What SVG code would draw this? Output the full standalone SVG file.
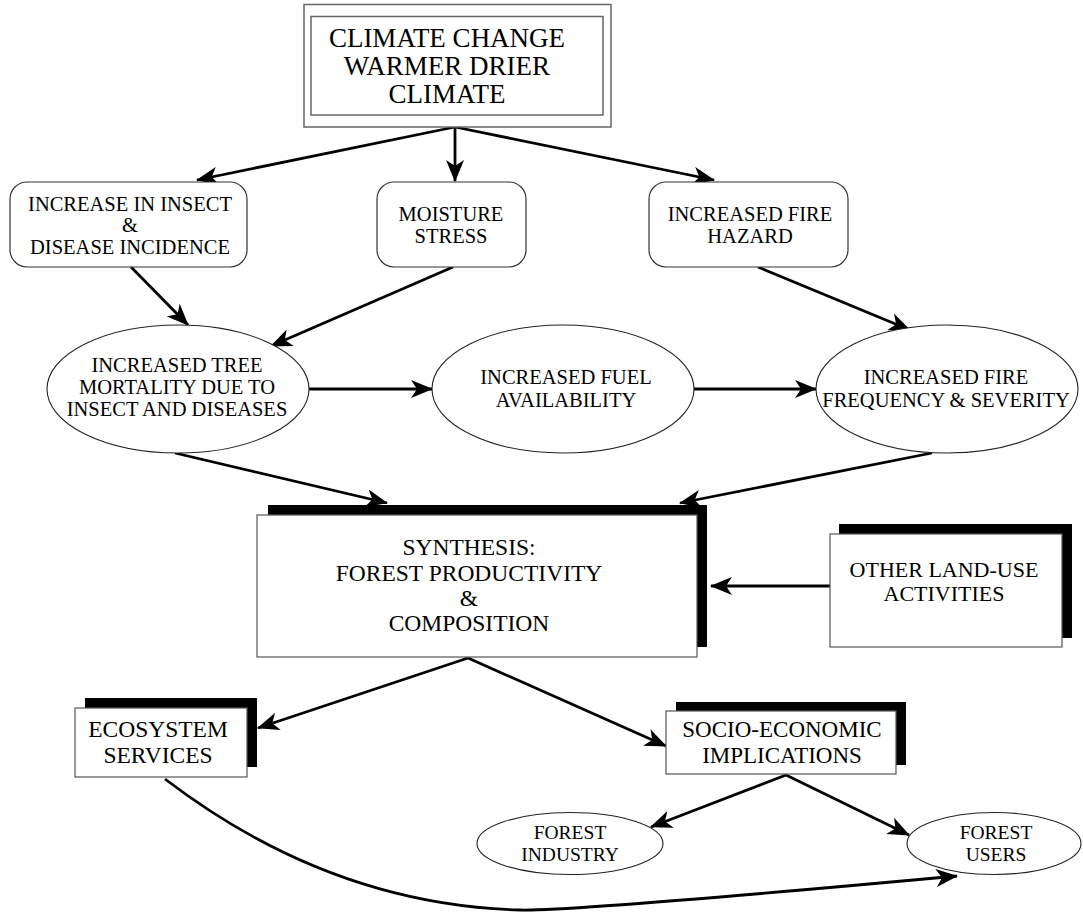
<svg xmlns="http://www.w3.org/2000/svg" width="1083" height="913" viewBox="0 0 1083 913">
<style>
text{font-family:"Liberation Serif","Times New Roman",serif;fill:#000;text-anchor:middle}
.box{fill:#fff;stroke:#555;stroke-width:1.2}
.rbox{fill:#fff;stroke:#333;stroke-width:1.2}
.ell{fill:#fff;stroke:#222;stroke-width:1.1}
.shadow{fill:#000}
.conn{fill:none;stroke:#000;stroke-width:2.8;marker-end:url(#ah)}
.t20{font-size:20.5px}
</style>
<defs>
<marker id="ah" viewBox="0 0 22 18" refX="21" refY="9" markerWidth="22" markerHeight="18" markerUnits="userSpaceOnUse" orient="auto">
<path d="M0,0 L22,9 L0,18 L6,9 z" fill="#000"/>
</marker>
</defs>
<rect width="1083" height="913" fill="#fff"/>

<g id="connectors">
<line class="conn" x1="455" y1="127" x2="197" y2="180"/>
<line class="conn" x1="455" y1="127" x2="455" y2="181"/>
<line class="conn" x1="455" y1="127" x2="714" y2="180"/>
<line class="conn" x1="131" y1="267" x2="188" y2="325"/>
<line class="conn" x1="453" y1="267" x2="271" y2="346"/>
<line class="conn" x1="758" y1="267" x2="910" y2="330"/>
<line class="conn" x1="309" y1="389" x2="432" y2="389"/>
<line class="conn" x1="694" y1="389" x2="816" y2="389"/>
<line class="conn" x1="175" y1="453" x2="387" y2="503"/>
<line class="conn" x1="932" y1="453" x2="680" y2="503"/>
<line class="conn" x1="830" y1="586" x2="711" y2="586"/>
<line class="conn" x1="468" y1="658" x2="258" y2="728"/>
<line class="conn" x1="468" y1="658" x2="666" y2="746"/>
<line class="conn" x1="786" y1="775" x2="651" y2="827"/>
<line class="conn" x1="786" y1="775" x2="909" y2="835"/>
<path class="conn" d="M165,779 Q330,905 520,910 Q573,911.4 957,876"/>
</g>

<g id="climate-change">
<rect x="304" y="4.5" width="307" height="122.5" fill="#fff" stroke="#666" stroke-width="1.5"/>
<rect x="311" y="16.5" width="292" height="98.5" fill="#fff" stroke="#666" stroke-width="1.5"/>
<text x="447" y="47" font-size="27">CLIMATE CHANGE</text>
<text x="447" y="75" font-size="27">WARMER DRIER</text>
<text x="447" y="103" font-size="27">CLIMATE</text>
</g>

<g id="insect-disease">
<rect class="rbox" x="10" y="182" width="237" height="85" rx="17"/>
<text class="t20" x="130" y="211">INCREASE IN INSECT</text>
<text class="t20" x="130" y="232">&amp;</text>
<text class="t20" x="130" y="254">DISEASE INCIDENCE</text>
</g>

<g id="moisture-stress">
<rect class="rbox" x="377" y="182" width="149" height="85" rx="17"/>
<text class="t20" x="451" y="221">MOISTURE</text>
<text class="t20" x="451" y="243">STRESS</text>
</g>

<g id="fire-hazard">
<rect class="rbox" x="649" y="182" width="199" height="85" rx="17"/>
<text class="t20" x="750" y="221">INCREASED FIRE</text>
<text class="t20" x="750" y="243">HAZARD</text>
</g>

<g id="tree-mortality">
<ellipse class="ell" cx="178" cy="389" rx="131" ry="64"/>
<text class="t20" x="177" y="372">INCREASED TREE</text>
<text class="t20" x="177" y="394">MORTALITY DUE TO</text>
<text class="t20" x="177" y="416">INSECT AND DISEASES</text>
</g>

<g id="fuel-availability">
<ellipse class="ell" cx="563" cy="389" rx="131" ry="64"/>
<text class="t20" x="566" y="384">INCREASED FUEL</text>
<text class="t20" x="566" y="407">AVAILABILITY</text>
</g>

<g id="fire-frequency">
<ellipse class="ell" cx="947" cy="389" rx="131" ry="64"/>
<text class="t20" x="946" y="384">INCREASED FIRE</text>
<text class="t20" x="946" y="407">FREQUENCY &amp; SEVERITY</text>
</g>

<g id="synthesis">
<rect class="shadow" x="268" y="505" width="439" height="142"/>
<rect class="box" x="257" y="515" width="440" height="142"/>
<text x="469" y="555" font-size="23.5">SYNTHESIS:</text>
<text x="469" y="581" font-size="23.5">FOREST PRODUCTIVITY</text>
<text x="469" y="606" font-size="23.5">&amp;</text>
<text x="469" y="631" font-size="23.5">COMPOSITION</text>
</g>

<g id="other-land-use">
<rect class="shadow" x="839" y="524" width="233" height="114"/>
<rect class="box" x="830" y="534" width="232" height="113"/>
<text x="944" y="577" font-size="22">OTHER LAND-USE</text>
<text x="944" y="601" font-size="22">ACTIVITIES</text>
</g>

<g id="ecosystem-services">
<rect class="shadow" x="85" y="698" width="172" height="69"/>
<rect class="box" x="75" y="708" width="172" height="69"/>
<text x="158" y="737" font-size="23.5">ECOSYSTEM</text>
<text x="158" y="763" font-size="23.5">SERVICES</text>
</g>

<g id="socio-economic">
<rect class="shadow" x="676" y="702" width="230" height="63"/>
<rect class="box" x="666" y="711" width="230" height="63"/>
<text x="782" y="737" font-size="23">SOCIO-ECONOMIC</text>
<text x="782" y="763" font-size="23">IMPLICATIONS</text>
</g>

<g id="forest-industry">
<ellipse class="ell" cx="570" cy="843.5" rx="93" ry="31"/>
<text x="570" y="839" font-size="19.5">FOREST</text>
<text x="570" y="861" font-size="19.5">INDUSTRY</text>
</g>

<g id="forest-users">
<ellipse class="ell" cx="994" cy="843.5" rx="87" ry="31"/>
<text x="996" y="839" font-size="19.5">FOREST</text>
<text x="996" y="861" font-size="19.5">USERS</text>
</g>
</svg>
